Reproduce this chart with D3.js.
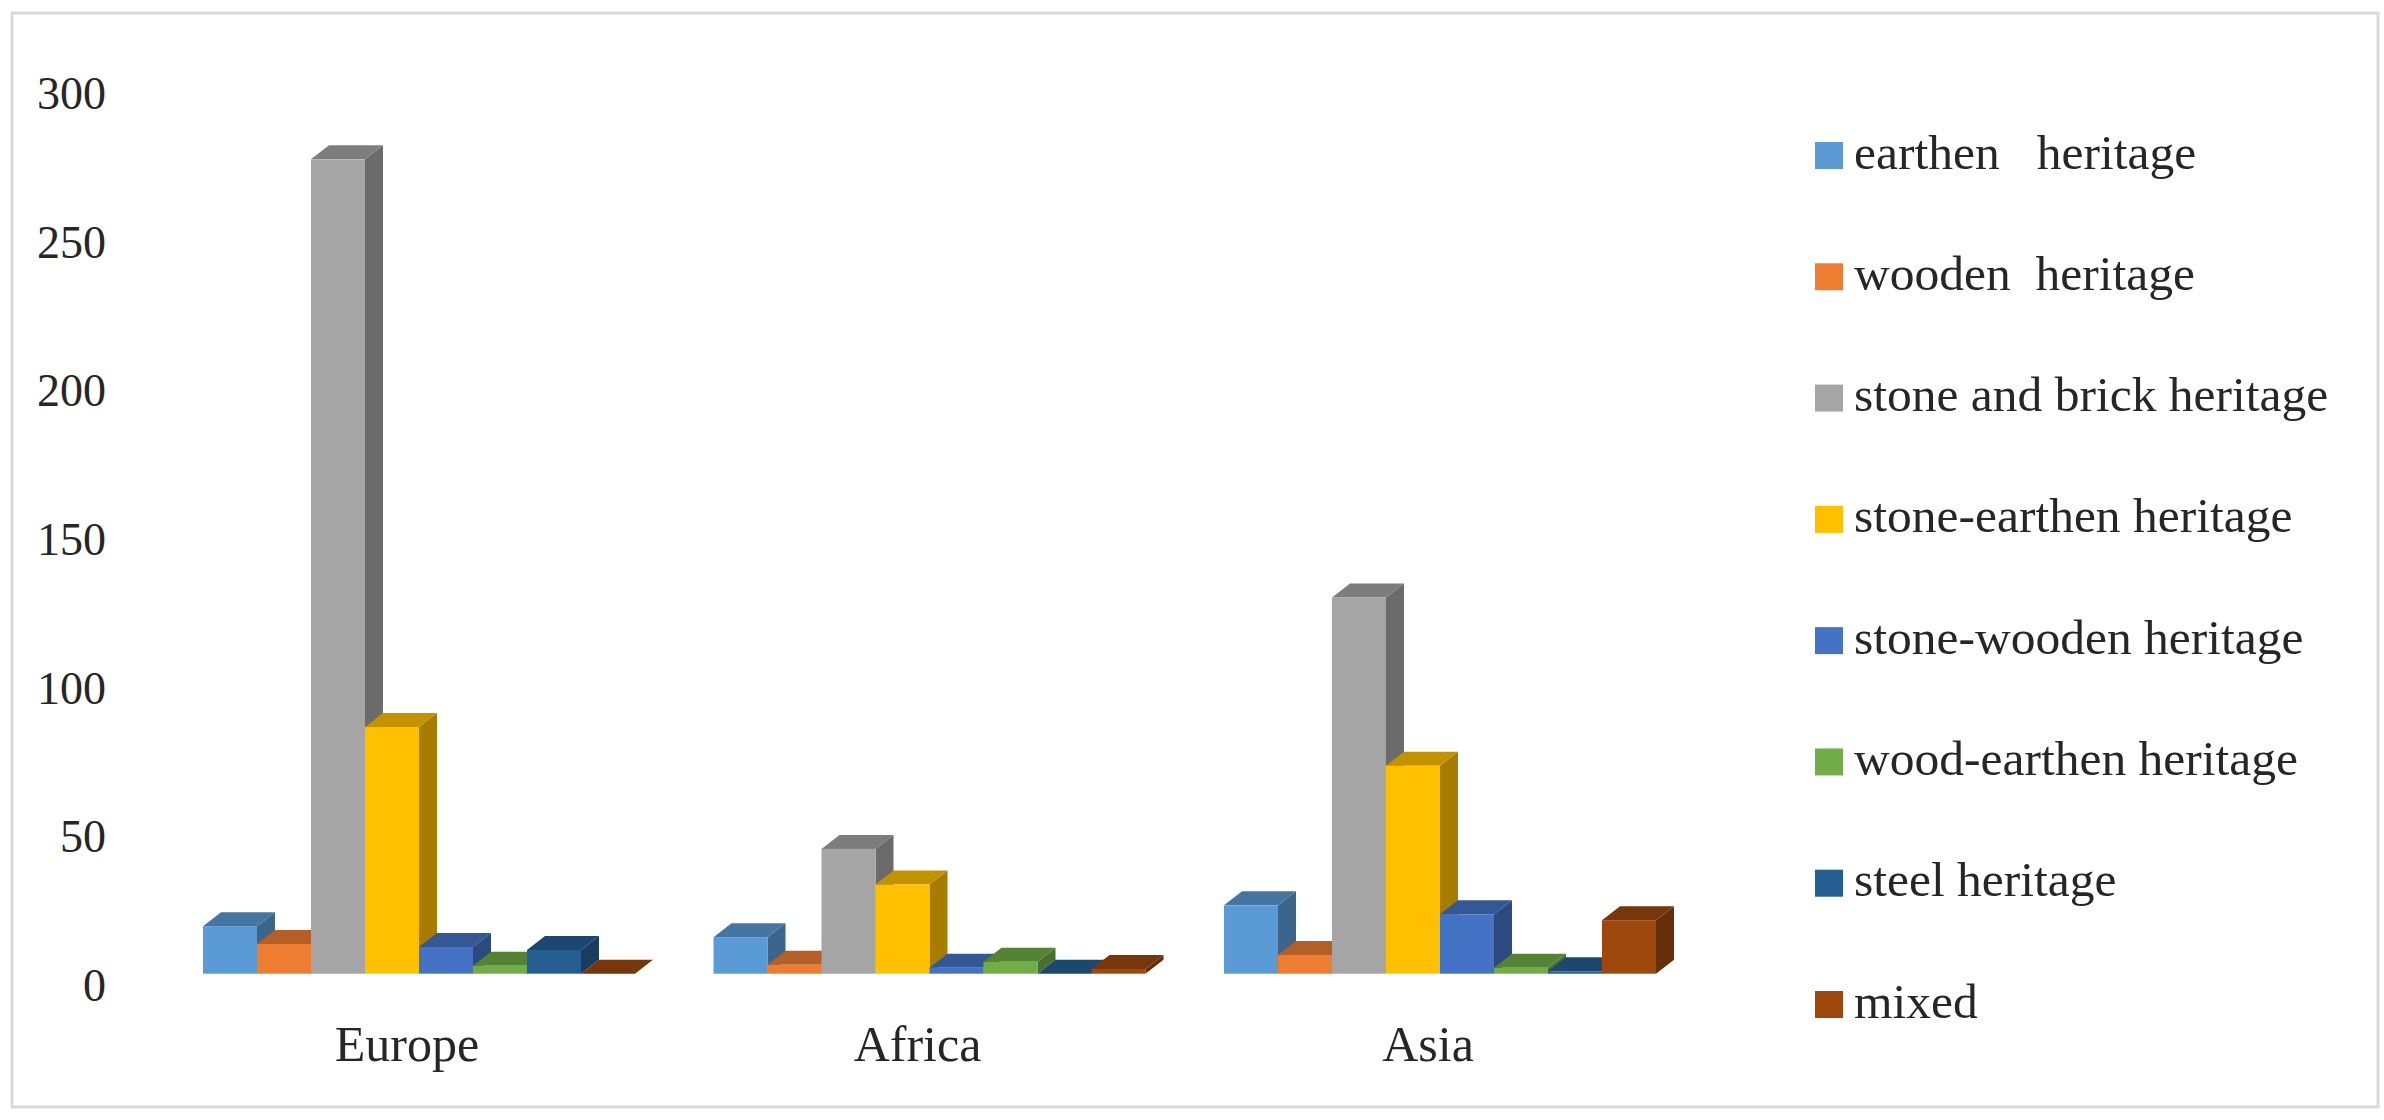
<!DOCTYPE html>
<html>
<head>
<meta charset="utf-8">
<script src="https://cdn.jsdelivr.net/npm/d3@7"></script>
<style>
html, body { margin: 0; background: #fff; }
svg { display: block; }
text { font-family: "Liberation Serif", serif; fill: #262626; white-space: pre; }
</style>
</head>
<body>
<div id="chart"></div>
<script>
var continents = ["Europe", "Africa", "Asia"];
var heritageNames = ["earthen   heritage", "wooden  heritage", "stone and brick heritage", "stone-earthen heritage",
    "stone-wooden heritage", "wood-earthen heritage", "steel heritage", "mixed"];
var heritageColors = ["#5b9bd5", "#ed7d31", "#a5a5a5", "#ffc000", "#4472c4", "#70ad47", "#255e91", "#9e480e"];
var yTicks = [0, 50, 100, 150, 200, 250, 300];

// one list per heritage type, in the order of continents
var earthen = [16, 12.3, 23];
var wooden = [10, 3, 6.3];
var stoneBrick = [274, 42, 126.6];
var stoneEarthen = [83, 30, 70];
var stoneWooden = [9, 2, 20];
var woodEarthen = [2.7, 4, 2];
var steel = [8, 0, 0.8];
var mixed = [0, 1.6, 18];
var seriesValues = [earthen, wooden, stoneBrick, stoneEarthen, stoneWooden, woodEarthen, steel, mixed];

var width = 2384,
    height = 1120,
    baseY = 973.7,
    depthX = 18,
    depthY = 14,
    fontSize = 46,
    catFontSize = 50,
    legendFontSize = 49.5;

var svg = d3.select("#chart").append("svg")
    .attr("width", width)
    .attr("height", height);

svg.append("rect")
    .attr("x", 12)
    .attr("y", 13)
    .attr("width", 2366)
    .attr("height", 1094)
    .attr("fill", "#fff")
    .attr("stroke", "#d9d9d9")
    .attr("stroke-width", 3);

var x0 = d3.scaleBand().domain(continents).range([203, 1656]).paddingInner(0.1538);
var x1 = d3.scaleBand().domain(d3.range(heritageNames.length)).range([0, x0.bandwidth()]);
var y = d3.scaleLinear().domain([0, 300]).range([baseY, baseY - 891.6]);

// y axis labels sit a little lower than the front of the floor
var yAxis = svg.append("g")
    .attr("transform", "translate(106,11.8)")
    .call(d3.axisLeft(y).tickValues(yTicks).tickSize(0).tickPadding(0));
yAxis.select(".domain").remove();
yAxis.selectAll("text").style("font-size", fontSize + "px").style("font-family", null);

var xAxis = svg.append("g")
    .attr("transform", "translate(-12,1061)")
    .call(d3.axisBottom(x0).tickSize(0).tickPadding(0));
xAxis.select(".domain").remove();
xAxis.selectAll("text")
    .attr("y", 0)
    .attr("dy", 0)
    .style("font-size", catFontSize + "px")
    .style("font-family", null);

function shade(c, k) {
    var r = d3.rgb(c);
    return d3.rgb(r.r * k, r.g * k, r.b * k).formatHex();
}

var bars = [];
continents.forEach(function(c, i) {
    seriesValues.forEach(function(vals, s) {
        bars.push({ cat: c, s: s, value: vals[i] });
    });
});

// painted left to right so the next bar covers the side of the one before
var bar = svg.append("g").selectAll("g")
    .data(bars)
    .enter().append("g")
    .attr("transform", function(d) {
        return "translate(" + (x0(d.cat) + x1(d.s)) + ",0)";
    });

var bw = x1.bandwidth();

bar.append("path")
    .attr("fill", function(d) { return shade(heritageColors[d.s], 0.65); })
    .attr("d", function(d) {
        var t = y(d.value);
        return "M" + bw + "," + t + "l" + depthX + "," + (-depthY) + "V" + (baseY - depthY) + "L" + bw + "," + baseY + "Z";
    });

bar.append("path")
    .attr("fill", function(d) { return shade(heritageColors[d.s], 0.76); })
    .attr("d", function(d) {
        var t = y(d.value);
        return "M0," + t + "l" + depthX + "," + (-depthY) + "h" + bw + "l" + (-depthX) + "," + depthY + "Z";
    });

bar.append("rect")
    .attr("width", bw)
    .attr("y", function(d) { return y(d.value); })
    .attr("height", function(d) { return baseY - y(d.value); })
    .attr("fill", function(d) { return heritageColors[d.s]; });

var legendY = d3.scalePoint().domain(heritageNames).range([155.5, 1004.5]);

var legend = svg.append("g").selectAll("g")
    .data(heritageNames)
    .enter().append("g")
    .attr("transform", function(d) {
        return "translate(1815," + legendY(d) + ")";
    });

legend.append("rect")
    .attr("y", -13.5)
    .attr("width", 28)
    .attr("height", 27)
    .attr("fill", function(d, i) { return heritageColors[i]; });

legend.append("text")
    .attr("x", 39)
    .attr("y", 13)
    .style("font-size", legendFontSize + "px")
    .text(function(d) { return d; });
</script>
</body>
</html>
